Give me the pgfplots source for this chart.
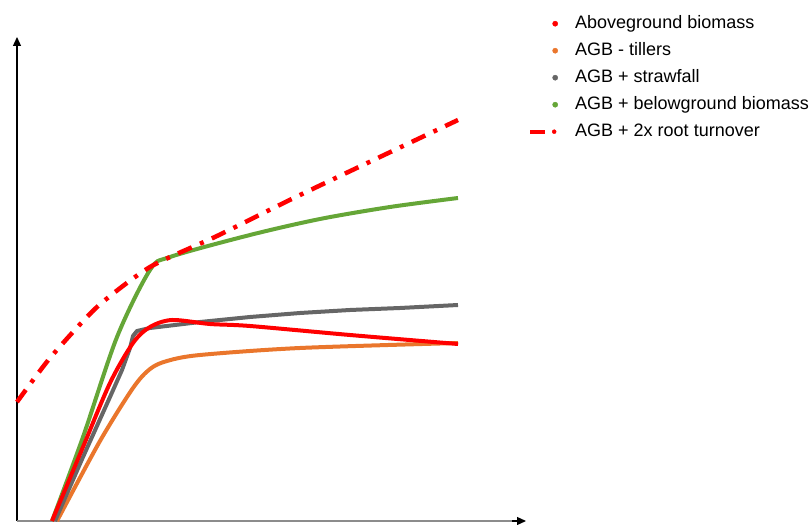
\documentclass[border=0pt]{standalone}
\usepackage{fontspec}
\setmainfont{Liberation Sans}
\usepackage{pgfplots}
\pgfplotsset{compat=1.18}
\usetikzlibrary{arrows.meta}
\definecolor{cgreen}{RGB}{101,166,55}
\definecolor{corange}{RGB}{234,118,44}
\definecolor{cgray}{RGB}{102,102,102}
\definecolor{cred}{RGB}{255,0,0}
\begin{document}
\begin{tikzpicture}
\begin{axis}[
  x=1pt, y=1pt, xmin=0, xmax=809, ymin=-3, ymax=521,
  hide axis, clip=false,
  legend cell align=left,
  legend style={at={(axis cs:527,506)}, anchor=north west, draw=none, fill=none,
    font=\fontsize{18}{22}\selectfont, inner sep=0pt,
    row sep=10pt,
    nodes={inner sep=0pt, text height=13pt, text depth=4pt}},
]
\path (axis cs:0,-3) rectangle (axis cs:809,521);
% axes
\draw[black, line width=1.2pt, -{Triangle[length=9pt,width=8pt]}] (axis cs:17,0) -- (axis cs:17,484);
\draw[black!45, line width=1.5pt] (axis cs:17,0) -- (axis cs:516,0);
\draw[black, line width=1.2pt, -{Triangle[length=9pt,width=8pt]}] (axis cs:512,0) -- (axis cs:526,0);

% green
\addplot[cgreen, line width=4pt, smooth, tension=0.5, forget plot] coordinates {
 (52,0) (83,84) (117,184) (150,251) (170,264) (250,286) (320,302) (390,314) (458,323)};
% orange
\addplot[corange, line width=4pt, smooth, tension=0.5, forget plot] coordinates {
 (57,0) (100,80) (133,133) (150,152) (167,160) (200,166) (300,173) (458,178)};
% gray
\addplot[cgray, line width=4pt, line join=round, forget plot] coordinates {
 (55,0) (83,64) (110,124) (122,151) (130,173) (133,185) (137,190) (150,193) (200,199) (250,204) (300,208) (350,211) (400,213) (458,216)};
% red solid
\addplot[cred, line width=4pt, smooth, tension=0.5, forget plot] coordinates {
 (52,0) (83,74) (110,138) (133,178) (150,194) (172,201) (210,197) (250,195) (350,186) (458,177)};
% red dash-dot
\addplot[cred, line width=4.5pt, dash pattern=on 15pt off 9pt on 4pt off 9pt, smooth, tension=0.4, forget plot] coordinates {
 (17,119) (50,163) (97,214) (150,254) (217,285) (300,326) (458,401)};

\addlegendimage{cred, legend image code/.code={\path[draw=none,fill=none] (-28pt,0pt) -- (20pt,0pt); \fill (0pt,0pt) circle (2.6pt);}}
\addlegendentry{Aboveground biomass}
\addlegendimage{corange, legend image code/.code={\path[draw=none,fill=none] (-28pt,0pt) -- (20pt,0pt); \fill (0pt,0pt) circle (2.6pt);}}
\addlegendentry{AGB - tillers}
\addlegendimage{cgray, legend image code/.code={\path[draw=none,fill=none] (-28pt,0pt) -- (20pt,0pt); \fill (0pt,0pt) circle (2.6pt);}}
\addlegendentry{AGB + strawfall}
\addlegendimage{cgreen, legend image code/.code={\path[draw=none,fill=none] (-28pt,0pt) -- (20pt,0pt); \fill (0pt,0pt) circle (2.6pt);}}
\addlegendentry{AGB + belowground biomass}
\addlegendimage{cred, legend image code/.code={\path[draw=none,fill=none] (-28pt,0pt) -- (20pt,0pt); \draw[line width=4pt] (-25pt,0pt) -- (-10pt,0pt); \fill (-1pt,0pt) circle (2pt);}}
\addlegendentry{AGB + 2x root turnover}
\end{axis}
\end{tikzpicture}
\end{document}
